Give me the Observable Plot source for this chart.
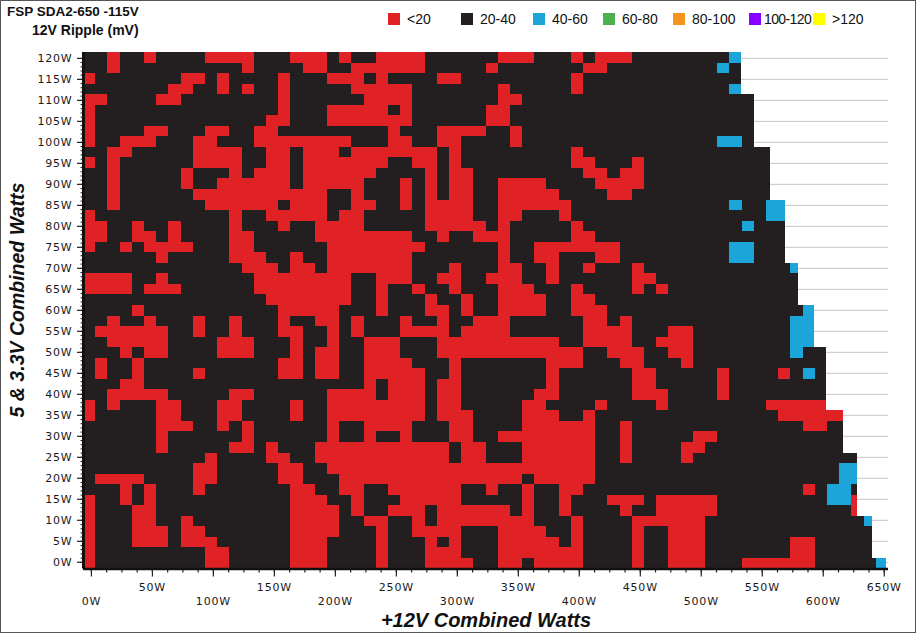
<!DOCTYPE html>
<html><head><meta charset="utf-8">
<script src="https://cdn.jsdelivr.net/npm/d3@7"></script>
<script src="https://cdn.jsdelivr.net/npm/@observablehq/plot@0.6"></script>
<style>
html,body{margin:0;padding:0;background:#fff;}
#wrap{position:relative;width:916px;height:633px;overflow:hidden;font-family:"Liberation Sans",Arial,sans-serif;color:#111;}
#chart{position:absolute;left:0;top:0;}
#chart svg rect{shape-rendering:crispEdges;}
#chart svg text{letter-spacing:0.8px;}
#frame{position:absolute;left:0;top:0;width:916px;height:633px;box-sizing:border-box;border:1px solid #555;pointer-events:none;}
.t{position:absolute;font-weight:bold;white-space:nowrap;}
.lg{position:absolute;top:12px;height:14px;display:flex;align-items:center;font-size:14px;white-space:nowrap;}
.sw{width:12px;height:12px;flex:none;}
.lt{margin-left:7px;}
.lg.tight .lt{margin-left:3px;letter-spacing:-0.6px;}
#xt{position:absolute;left:486px;top:620px;transform:translate(-50%,-50%);font-weight:bold;font-style:italic;font-size:20px;white-space:nowrap;}
#yt{position:absolute;left:17px;top:300px;transform:translate(-50%,-50%) rotate(-90deg);font-weight:bold;font-style:italic;font-size:19.5px;white-space:nowrap;}
</style></head>
<body>
<div id="wrap">
  <div id="chart"></div>
  <div class="t" style="left:7px;top:4px;font-size:13.5px;">FSP SDA2-650 -115V</div>
  <div class="t" style="left:32px;top:22px;font-size:14px;">12V Ripple (mV)</div>
  <div id="legend"></div>
  <div id="xt">+12V Combined Watts</div>
  <div id="yt">5 &amp; 3.3V Combined Watts</div>
  <div id="frame"></div>
</div>
<script>
// ---- data ----
const bands = ["<20", "20-40", "40-60", "60-80", "80-100", "100-120", ">120"];
const bandColors = ["#e02226", "#231f20", "#1ba5d8", "#4db04f", "#f39320", "#8800ff", "#ffff00"];
const gridCode = {r: "<20", k: "20-40", b: "40-60"};
// 12V ripple class per cell, rows from the top (121W) to the bottom (0W), columns every 10W of +12V load
const rippleGrid = [
"kkrkkrkkkkrrrrkkkrrrkrkkrrrrkkkkkkrrrkkkrkrrrkkkkkkkkb",
"kkrkkkkkkkkkkrkkkkrrkkrrrrrrkkkkkrkkkkkkkrrkkkkkkkkkbk",
"rkkkkkkkrrkrkkkkrkkkrrrkrkkkkrrkkkkkkkkkrkkkkkkkkkkkkk",
"kkkkkkkrrkkrkrkkrkkkkkrrrrrkkkkkkkrkkkkkrkkkkkkkkkkkkb",
"rrkkkkrrkkkkkkkkrkkkkkkrrrrkkkkkkkrrkkkkkkkkkkkkkkkkkkk",
"rkkkkkkkkkkkkkkkrkkkrrrrrkrkkkkkkrrkkkkkkkkkkkkkkkkkkkk",
"rkkkkkkkkkkkkkkrrkkkrrrrrrrkkkkkkrrkkkkkkkkkkkkkkkkkkkk",
"rkkkkrrkkkrrkkrrkkkkkkkkkrkkkrrrrkkrkkkkkkkkkkkkkkkkkkk",
"rkkrrrkkkrrkkkrrrrrrrrkkkrrkkrrkkkkrkkkkkkkkkkkkkkkkbbk",
"kkrrkkkkkrrrrkkrrkrrrkrrrrrrrkrkkkkkkkkkrkkkkkkkkkkkkkkk",
"rkrkkkkkkrrrrkkrrkrrrrrrrkkrrkrkkkkkkkkkrrkkkrkkkkkkkkkk",
"kkrkkkkkrkkkrkrrrkrrrrrrkkkkrkrrkkkkkkkkkrrkrrkkkkkkkkkk",
"kkrkkkkkrkkrrrrrrkrrrrrkkkrkrkrrkkrrrrkkkkrrrrkkkkkkkkkk",
"kkrkkkkkkrrrrrrrrrrrkkrkkkrkrkrrkkrrrrrkkkkrrkkkkkkkkkkk",
"kkrkkkkkkkrrrrrrkrrrkkrrkkrkrrrrkkrrrrrrkkkkkkkkkkkkkbkkbb",
"rkkkkkkkkkkkrkkrrrrrkrrkkkkkrrrrkkrrkkkrkkkkkkkkkkkkkkkkbb",
"rrkkrkkrkkkkrkkkrkkrrrrkkkkkrrrrrkrkkkkkrkkkkkkkkkkkkkbkkk",
"rrkkrrkrkkkkrrkkkkkrrrrrrrrkkrkkrrrkkkkkrrkkkkkkkkkkkkkkkk",
"rkkrkrrrrkkkrrkkkkkkrrrrrrrrkkkkkkrkkrrrrrrrkkkkkkkkkbbkkk",
"kkkkkkrkkkkkrrrkkrkkrrrrrrrkkkkkkkrkkrrkkkrrkkkkkkkkkbbkkk",
"kkkkkkkkkkkkkrrrkrrkrrrrrrrkkkrkkkrrkkrkkrkkkrkkkkkkkkkkkkb",
"rrrrkkrkkkkkkkrrrrrrrrkkrrrkkrrkkrrrkkrkkkkkkrrkkkkkkkkkkkk",
"rrrrkrrrkkkkkkrrrrrrrrkkrkkrkkrkkkrrrkkkrkkkkrkrkkkkkkkkkkk",
"kkkkkkkkkkkkkkkrrrrrrrkkrkkkrkkrkkrrrrkkrrkkkkkkkkkkkkkkkkk",
"kkkkrkkkkkkkkkkkrrrrrkkkrkkkrrkrkkrrrrkkrrrkkkkkkkkkkkkkkkkb",
"kkrkkrkkkrkkrkkkrkkrrkrkkkrkkrkkrrrkkkkkkrrkrkkkkkkkkkkkkkbb",
"krrrrrrkkrkkrkkkrrkkrkrkkkrrrrkrrrrkkkkkkrrrrkkkrrkkkkkkkkbb",
"kkrrrrrkkkkrrrkkkrkkrkkrrrkkkrrrrrrrrrrkkrrrrkkrrrkkkkkkkkbb",
"kkkrkrrkkkkrrrkkkrkrrkkrrrkkkrrrrrrrrrrrrkkrrrkkrrkkkkkkkkbkk",
"krkkrkkkkkkkkkkkrrkrrkkrrrrkkkrkkkkkkkrrrkkkrrkkkrkkkkkkkkkkk",
"krkkrkkkkrkkkkkkrrkrrkkrrrrrkkrkkkkkkkrkkkkkkrrkkkkkrkkkkrkbk",
"kkkrrkkkkkkkkkkkkkkkkkkrkrrrkrrkkkkkkkrkkkkkkrrkkkkkrkkkkkkkk",
"kkrrrrrkkkkkrrkkkkkkrrrrkrrrkrrkkkkkkrrkkkkkkrrrkkkkrkkkkkkkk",
"rkrkkkrrkkkrrkkkkrkkrrrrrrrrkrrkkkkkrrkkkkrkkkkrkkkkkkkkrrrrr",
"rkkkkkrrkkkrrkkkkrkkrrrrrrrrkrrrkkkkrrrkkrkkkkkkkkkkkkkkkrrrrr",
"kkkkkkrrrkkrkrkkkkkkrkkrrrrkkkrrkkkkrrrrrrkkrkkkkkkkkkkkkkkrrk",
"kkkkkkrkkkkkkrkkkkkkrkkrkkrkkkrrkkrrrrrrrrkkrkkkkkrrkkkkkkkkkk",
"kkkkkkrkkkkkrrkrkkkrrrrrrrrrrrkrrkkkrrrrrrkkrkkkkrrkkkkkkkkkkk",
"kkkkkkkkkkrkkkkrrkkrrrrrrrrrrrkrrkkkrrrrrrkkrkkkkrkkkkkkkkkkkkkk",
"kkkkkkkkkrrkkkkkrrkkrrrrrrrrrrrrrrrrrrrrrrkkkkkkkkkkkkkkkkkkkkbb",
"krrrrkkkkrrkkkkkrrkkkrrrrrrrrrrrrrrrkrrrrrkkkkkkkkkkkkkkkkkkkkbb",
"kkkrkrkkkrkkkkkkkrrkkrrkkrrrrrrkkrkkrkkrrkkkkkkkkkkkkkkkkkkrkbbk",
"rkkrkrkkkkkkkkkkkrrrkkrkkkrrrrrkkkkkrkkrkkkrrrkrrrrrkkkkkkkkkbbr",
"rkkkrrkkkkkkkkkkkrrrrkrkkrrrkrrrrrrkrkkrkkkkrkkrrrrrkkkkkkkkkkkr",
"rkkkrrkkrkkkkkkkkrrrrkkrrkkrkrrrrrrrrkkkrkkkkrrrrrrkkkkkkkkkkkkkb",
"rkkkrrrkrrkkkkkkkrrrrkkkrkkrrrrkkkrrrrkkrkkkkrkkrrrkkkkkkkkkkkkkk",
"rkkkrrrkrrrkkkkkkrrrkkkkrkkkrkrkkkrrrrrkrkkkkrkkrrrkkkkkkkrrkkkkk",
"rkkkkkkkkkrrkkkkkrrrkkkkrkkkrrrkkkrrrrrrrkkkkrkkrrrkkkkkkkrrkkkkk",
"rkkkkkkkkkrrkkkkkrrrkkkkrkkkrrrrkkrrkrrrrkkkkrkkrrrkkkrrrrrrkkkkkb"
];
// maximum +12V load (W) reached in each row, top to bottom
const rowLimitW = [
533,533,533,533, 544,544,544,544,544, 557,557,557,557,557,
569,569,569,569,569,569, 580,580,580,580, 593,593,593,593,
603,603,603,603,603,603, 617,617,617,617, 628,628,628,628,628,628,
640,640,640,640, 652
];
const xTicks = d3.range(0, 651, 50);          // labelled ticks, W
const xMinor = d3.range(0, 651, 12.5);        // minor ticks, W
const yTicks = d3.range(0, 121, 5);           // labelled ticks, W
const yMinor = d3.range(0, 121, 1);           // minor ticks, W

// ---- layout constants ----
const X0 = -6.5, STEP = 10, YBOT = -1.6, YTOP = 121.4;
const legendLeft = [388, 461, 533, 603, 673, 749, 813];

// ---- build cells (runs of equal class merged per row) ----
const rowH = (YTOP - YBOT) / rippleGrid.length;
const cells = [];
rippleGrid.forEach((row, r) => {
  const y2 = YTOP - r * rowH, y1 = y2 - rowH;
  let c = 0;
  while (c < row.length) {
    let e = c;
    while (e + 1 < row.length && row[e + 1] === row[c]) e++;
    const x1 = X0 + c * STEP;
    const x2 = e === row.length - 1 ? rowLimitW[r] : Math.min(X0 + (e + 1) * STEP, rowLimitW[r]);
    cells.push({x1, x2, y1, y2, band: gridCode[row[c]]});
    c = e + 1;
  }
});

const chart = Plot.plot({
  width: 916, height: 633,
  marginLeft: 83, marginRight: 28, marginTop: 52, marginBottom: 64.5,
  x: {domain: [X0, X0 + 66 * STEP], axis: null, label: null},
  y: {domain: [YBOT, YTOP], axis: null, label: null},
  color: {domain: bands, range: bandColors},
  style: {fontFamily: "DejaVu Sans", fontSize: "11px", color: "#1a1a1a", background: "transparent"},
  marks: [
    Plot.ruleY(yTicks, {stroke: "#c6c6c6", strokeWidth: 1}),
    Plot.rect(cells, {x1: "x1", x2: "x2", y1: "y1", y2: "y2", fill: "band"}),
    Plot.axisX(xMinor, {tickSize: 4, fill: "none", stroke: "#222", strokeWidth: 1.2, label: null}),
    Plot.axisX(xTicks, {tickSize: 8, fill: "none", stroke: "#222", strokeWidth: 1.2, label: null}),
    Plot.axisX(xTicks.filter((d, i) => i % 2 === 1), {tickSize: 0, tickPadding: 14, tickFormat: d => d + "W", label: null}),
    Plot.axisX(xTicks.filter((d, i) => i % 2 === 0), {tickSize: 0, tickPadding: 28, tickFormat: d => d + "W", label: null}),
    Plot.axisY(yMinor, {tickSize: 2.5, fill: "none", stroke: "#222", strokeWidth: 1, label: null}),
    Plot.axisY(yTicks, {tickSize: 6, tickPadding: 5, stroke: "#222", strokeWidth: 1.2, tickFormat: d => d + "W", label: null}),
    Plot.ruleY([YBOT], {stroke: "#111", strokeWidth: 2.6}),
    Plot.ruleX([X0], {stroke: "#111", strokeWidth: 3})
  ]
});
document.getElementById("chart").appendChild(chart);

// ---- legend ----
const lg = document.getElementById("legend");
bands.forEach((b, i) => {
  const it = document.createElement("div");
  it.className = "lg" + (b.length > 6 ? " tight" : "");
  it.style.left = legendLeft[i] + "px";
  it.style.zIndex = i;
  it.innerHTML = `<div class="sw" style="background:${bandColors[i]}"></div><span class="lt">${b.replace("<", "&lt;").replace(">", "&gt;")}</span>`;
  lg.appendChild(it);
});
</script>
</body></html>
